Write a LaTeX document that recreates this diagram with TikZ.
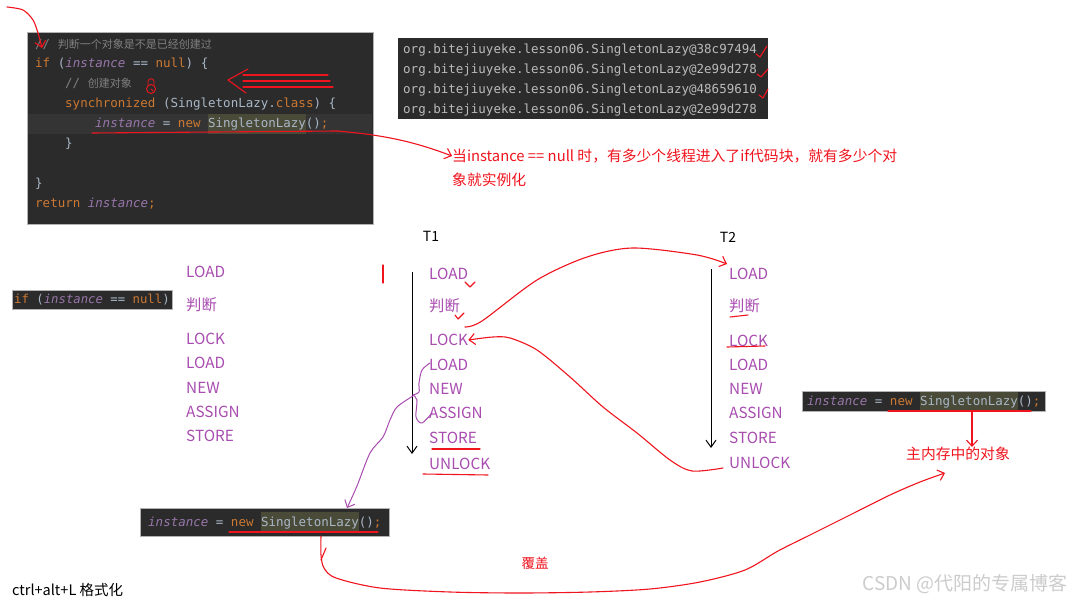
\documentclass[tikz,border=0pt]{standalone}
\usepackage{fontspec}
\setmainfont{Noto Sans CJK SC}
\setmonofont{DejaVu Sans Mono}[ItalicFont={DejaVu Sans Mono Oblique}]
\newfontfamily\cjk{Noto Sans CJK SC}
\usepackage{xcolor}
\usetikzlibrary{arrows.meta}

\definecolor{codebg}{HTML}{2B2B2B}
\definecolor{curline}{HTML}{343434}
\definecolor{clshl}{HTML}{4A4A38}
\definecolor{kwcol}{HTML}{CC7832}
\definecolor{ivcol}{HTML}{9876AA}
\definecolor{txtcol}{HTML}{A9B7C6}
\definecolor{cmtcol}{HTML}{808080}
\definecolor{outcol}{HTML}{BBBBBB}
\definecolor{opcol}{HTML}{A84CB0}
\definecolor{redink}{HTML}{F0141E}

\newcommand\kw[1]{\textcolor{kwcol}{#1}}
\newcommand\iv[1]{\textcolor{ivcol}{\itshape #1}}
\newcommand\hlcls[1]{{\setlength{\fboxsep}{0pt}\colorbox{clshl}{\strut #1}}}
\newcommand\cmt[1]{\textcolor{cmtcol}{// {\cjk\fontsize{11}{13}\selectfont #1}}}

\begin{document}
\begin{tikzpicture}[
    x=1pt, y=-1pt,
    code/.style={anchor=west, inner sep=0pt, text=txtcol, text height=14pt, text depth=6pt,
        font=\ttfamily\fontsize{12.5}{20}\selectfont},
    outline/.style={anchor=west, inner sep=0pt, text=outcol,
        font=\ttfamily\fontsize{12.5}{16}\selectfont},
    panel/.style={fill=codebg, draw=gray!60, line width=0.6pt},
    op/.style={anchor=west, inner sep=0pt, text=opcol, font=\fontsize{15.3}{18}\selectfont},
    note/.style={anchor=west, inner sep=0pt, text=redink, font=\fontsize{14.8}{18}\selectfont},
    label/.style={inner sep=0pt, font=\fontsize{14}{16}\selectfont},
    ink/.style={draw=redink, line width=1.1pt, line cap=round, line join=round},
    pen/.style={draw=opcol, line width=1pt, line cap=round, line join=round},
    barb/.style={-{Straight Barb[length=6pt,width=11pt]}},
    timeline/.style={line width=1pt, -{Straight Barb[length=7pt,width=10pt]}}
]
\path[use as bounding box] (0,0) rectangle (1073,601);
\fill[white] (0,0) rectangle (1073,601);

% editor
\path[panel] (27,32) rectangle (373,224);
\fill[curline] (28,114) rectangle (372,134);
\node[code] (c1) at (35,45) {\cmt{判断一个对象是不是已经创建过}};
\node[code] (c2) at (35,64) {\kw{if} (\iv{instance} == \kw{null}) \{};
\node[code] (c3) at (65,84) {\cmt{创建对象}};
\node[code] (c4) at (65,104) {\kw{synchronized} (SingletonLazy.\kw{class}) \{};
\node[code] (c5) at (95,124) {\iv{instance} = \kw{new} \hlcls{SingletonLazy}()\kw{;}};
\node[code] (c6) at (65,144) {\}};
\node[code] (c7) at (35,184) {\}};
\node[code] (c8) at (35,204) {\kw{return} \iv{instance}\kw{;}};

% console output
\fill[codebg] (398,38) rectangle (768,119);
\node[outline] (o1) at (403,50) {org.bitejiuyeke.lesson06.SingletonLazy@38c97494};
\node[outline] (o2) at (403,70) {org.bitejiuyeke.lesson06.SingletonLazy@2e99d278};
\node[outline] (o3) at (403,90) {org.bitejiuyeke.lesson06.SingletonLazy@48659610};
\node[outline] (o4) at (403,110) {org.bitejiuyeke.lesson06.SingletonLazy@2e99d278};

\node[note] (n1) at (452,156) {当instance == null 时，有多少个线程进入了if代码块，就有多少个对};
\node[note] (n2) at (452,180) {象就实例化};

% threads
\node[label] (t1) at (431,236) {T1};
\node[label] (t2) at (728,237) {T2};

\node[code, fill=codebg, draw=gray!60, inner sep=2pt, text height=11pt, text depth=4pt,
    font=\ttfamily\fontsize{12.3}{16}\selectfont] (ifb) at (12,300) {\kw{if} (\iv{instance} == \kw{null})};

\node[op] (l1) at (186,272) {LOAD};
\node[op] (l2) at (186,305) {判断};
\node[op] (l3) at (186,339) {LOCK};
\node[op] (l4) at (186,363) {LOAD};
\node[op] (l5) at (186,388) {NEW};
\node[op] (l6) at (186,412) {ASSIGN};
\node[op] (l7) at (186,436) {STORE};

\node[op] (t1a) at (429,274) {LOAD};
\node[op] (t1b) at (429,306) {判断};
\node[op] (t1c) at (429,340) {LOCK};
\node[op] (t1d) at (429,365) {LOAD};
\node[op] (t1e) at (429,389) {NEW};
\node[op] (t1f) at (429,413) {ASSIGN};
\node[op] (t1g) at (429,438) {STORE};
\node[op] (t1h) at (429,464) {UNLOCK};

\node[op] (t2a) at (729,274) {LOAD};
\node[op] (t2b) at (729,306) {判断};
\node[op] (t2c) at (729,341) {LOCK};
\node[op] (t2d) at (729,365) {LOAD};
\node[op] (t2e) at (729,389) {NEW};
\node[op] (t2f) at (729,413) {ASSIGN};
\node[op] (t2g) at (729,438) {STORE};
\node[op] (t2h) at (729,463) {UNLOCK};

\coordinate (t1top) at (412,272);
\coordinate (t1bot) at (412,454);
\coordinate (t2top) at (711,269);
\coordinate (t2bot) at (711,448);
\draw[timeline] (t1top) -- (t1bot);
\draw[timeline] (t2top) -- (t2bot);

% copies of the assignment
\node[code, fill=codebg, draw=gray!60, inner xsep=8pt, inner ysep=4pt] (lowbox) at (140,522)
    {\iv{instance} = \kw{new} \hlcls{SingletonLazy}()\kw{;}};
\node[code, fill=codebg, draw=gray!60, inner xsep=5pt, inner ysep=1pt, text height=13pt, text depth=5pt,
    font=\ttfamily\fontsize{12.5}{18}\selectfont] (mainbox) at (802,401)
    {\iv{instance} = \kw{new} \hlcls{SingletonLazy}()\kw{;}};

\node[note, anchor=center] (mem) at (958,454) {主内存中的对象};
\node[note, anchor=center, font=\fontsize{13.5}{16}\selectfont] (cover) at (535,563) {覆盖};
\node[anchor=west, inner sep=0pt, font=\fontsize{14.5}{16}\selectfont] (hint) at (12,590) {ctrl+alt+L 格式化};
\node[anchor=east, inner sep=0pt, text=gray!40, font=\fontsize{19}{22}\selectfont] (wm) at (1068,584) {CSDN @代阳的专属博客};

% red marks on the editor
\draw[ink, barb] plot[smooth] coordinates {(7,7) (23,10) (33,20) (38,33) (42,48)};
\draw[ink] (248,69) -- (228,80) -- (246,93);
\draw[ink] (243,75) -- (328,75);
\draw[ink] (243,81) -- (330,81);
\draw[ink] (243,87) -- (333,87);
\draw[ink, line width=0.9pt] (151,89) circle (4.5);
\draw[ink, line width=0.9pt] (148,85) -- (148,81) .. controls (149,78) and (153,78) .. (154,81) -- (154,85);
\draw[ink, line width=0.9pt] (151,89) -- (153,91);
\draw[ink] (92,133) -- (337,131);
\draw[ink, barb] (337,131) .. controls (385,135) and (415,142) .. (n1.west);

% checks on the output
\draw[ink] (756,54) -- (760,57) -- (767,46);
\draw[ink] (757,74) -- (761,77) -- (768,69);
\draw[ink] (759,95) -- (763,98) -- (768,89);

% marks on T1 and T2
\draw[ink] (383,265) -- (383,283);
\draw[ink] (465,282) -- (470,287) -- (475,282);
\draw[ink] (455,315) -- (458,319) -- (464,313);
\draw[ink, barb] plot[smooth] coordinates {(465,327) (482,321) (537,280) (587,257) (633,248) (697,255) (727,264)};
\draw[ink, barb] plot[smooth] coordinates {(723,468) (692,471) (670,460) (637,433) (603,407) (570,377) (537,350) (510,338) (493,337) (t1c.east)};
\draw[ink] (432,449) -- (480,449);
\draw[ink] (423,474) -- (488,475);
\draw[ink] (730,317) -- (748,315);
\draw[ink] (727,347) -- (765,346);

% brace over LOAD NEW ASSIGN
\draw[pen] plot[smooth] coordinates {(430,363) (422,370) (419,383) (419,392) (413,395)};
\draw[pen] plot[smooth] coordinates {(413,395) (417,400) (416,417) (422,423) (432,413)};
\draw[pen, barb] plot[smooth] coordinates {(413,396) (397,407) (390,420) (383,437) (370,453) (357,486) (347,508)};

% underlines and arrows below
\draw[ink] (229,532) -- (378,532);
\draw[ink] (888,411) -- (1031,411);
\draw[ink, barb] (972,412) -- (mem.north -| 972,0);
\draw[ink] (326,548) -- (321,560);
\draw[ink, barb] plot[smooth] coordinates {(321,536) (321,555) (324,568) (336,578) (380,588) (450,592) (520,593) (590,592) (650,589) (700,582) (745,570) (778,551) (810,535) (850,515) (890,495) (920,482) (945,473)};
\end{tikzpicture}
\end{document}
